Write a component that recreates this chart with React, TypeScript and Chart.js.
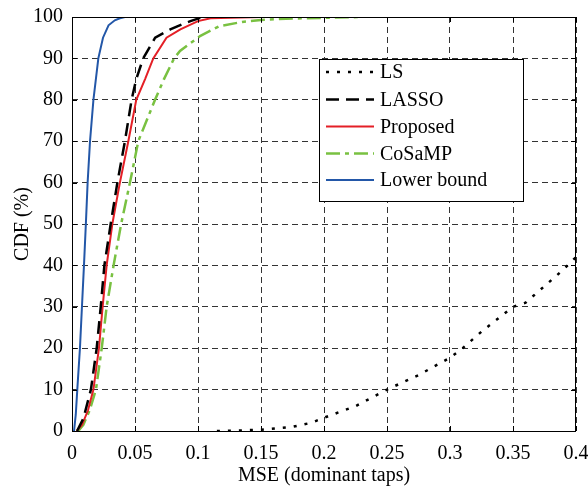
import React, { useEffect, useRef } from "react";
import { Chart, registerables } from "chart.js";

Chart.register(...registerables);

// ---- data ----
const xTitle = "MSE (dominant taps)";
const yTitle = "CDF (%)";

const lsMse = [0.115, 0.13, 0.15, 0.175, 0.19, 0.2, 0.225, 0.25, 0.275, 0.3, 0.31, 0.325, 0.35, 0.36, 0.375, 0.39, 0.4];
const lsCdf = [0, 0.1, 0.3, 1, 2, 3.2, 6, 10, 13.5, 17.7, 20, 24, 30, 31, 35, 39, 42];

const lassoMse = [0.004, 0.009, 0.015, 0.0196, 0.0228, 0.0257, 0.0307, 0.036, 0.042, 0.0473, 0.051, 0.0565, 0.066, 0.078, 0.088, 0.094, 0.104];
const lassoCdf = [0, 3, 10, 20, 30, 40, 50, 60, 70, 80, 85, 90, 95, 97, 98.3, 99, 100];

const propMse = [0.0037, 0.008, 0.0127, 0.017, 0.0214, 0.0243, 0.0275, 0.032, 0.038, 0.0447, 0.051, 0.058, 0.0645, 0.075, 0.086, 0.1, 0.11, 0.15];
const propCdf = [0, 1.5, 5, 10, 20, 30, 40, 50, 60, 70, 80, 85, 90, 95, 97, 99, 99.7, 100];

const cosampMse = [0.005, 0.009, 0.014, 0.019, 0.0236, 0.0275, 0.033, 0.039, 0.046, 0.0526, 0.0659, 0.073, 0.081, 0.0857, 0.1016, 0.117, 0.135, 0.15, 0.17, 0.23];
const cosampCdf = [0, 1.5, 5, 10, 20, 30, 40, 50, 60, 70, 80, 85, 90, 91.8, 95.4, 97.8, 98.8, 99.3, 99.6, 100];

const lowerMse = [0.0016, 0.003, 0.0042, 0.0063, 0.0079, 0.0095, 0.011, 0.0124, 0.0143, 0.017, 0.0209, 0.0246, 0.029, 0.034, 0.038, 0.042];
const lowerCdf = [0, 4, 10, 20, 30, 40, 50, 60, 70, 80, 90, 95, 98, 99.2, 99.7, 100];

const seriesNames = ["LS", "LASSO", "Proposed", "CoSaMP", "Lower bound"];

const FONT = "'Liberation Serif', 'DejaVu Serif', serif";

const zip = (xs: number[], ys: number[]) => xs.map((x, i) => ({ x, y: ys[i] }));

const frameAndLegend = {
  id: "frameAndLegend",
  afterDatasetsDraw(chart: any) {
    const { ctx, chartArea: a, scales } = chart;
    ctx.save();
    ctx.strokeStyle = "#000";
    ctx.lineWidth = 1;
    ctx.setLineDash([]);
    ctx.strokeRect(a.left + 0.5, a.top + 0.5, a.right - a.left - 1, a.bottom - a.top);
    const tl = 5;
    ctx.beginPath();
    scales.x.ticks.forEach((t: any) => {
      const px = Math.round(scales.x.getPixelForValue(t.value)) + 0.5;
      ctx.moveTo(px, a.bottom);
      ctx.lineTo(px, a.bottom - tl);
      ctx.moveTo(px, a.top);
      ctx.lineTo(px, a.top + tl);
    });
    scales.y.ticks.forEach((t: any) => {
      const py = Math.round(scales.y.getPixelForValue(t.value)) + 0.5;
      ctx.moveTo(a.left, py);
      ctx.lineTo(a.left + tl, py);
      ctx.moveTo(a.right, py);
      ctx.lineTo(a.right - tl, py);
    });
    ctx.stroke();
    ctx.restore();
  },
  afterDraw(chart: any) {
    const { ctx } = chart;
    const bx = 319, by = 59, bw = 204, bh = 142;
    ctx.save();
    ctx.fillStyle = "#fff";
    ctx.fillRect(bx, by, bw, bh);
    ctx.strokeStyle = "#000";
    ctx.lineWidth = 1;
    ctx.setLineDash([]);
    ctx.strokeRect(bx + 0.5, by + 0.5, bw, bh);
    const rowY = [72, 99.5, 126.5, 153.5, 180];
    chart.data.datasets.forEach((ds: any, i: number) => {
      const y = rowY[i];
      ctx.beginPath();
      ctx.strokeStyle = ds.borderColor;
      ctx.lineWidth = ds.borderWidth;
      ctx.setLineDash(ds.borderDash || []);
      ctx.lineCap = "butt";
      ctx.moveTo(326, y);
      ctx.lineTo(374, y);
      ctx.stroke();
      ctx.setLineDash([]);
      ctx.fillStyle = "#000";
      ctx.font = `20px ${FONT}`;
      ctx.textBaseline = "middle";
      ctx.textAlign = "left";
      ctx.fillText(ds.label, 380, y + 1);
    });
    ctx.restore();
  },
};

export default function App() {
  const ref = useRef<HTMLCanvasElement | null>(null);
  useEffect(() => {
    if (!ref.current) return;
    const common = { pointRadius: 0, fill: false, tension: 0, showLine: true };
    const chart = new Chart(ref.current, {
      type: "scatter",
      data: {
        datasets: [
          { ...common, label: seriesNames[0], data: zip(lsMse, lsCdf), borderColor: "#000", borderWidth: 2.5, borderDash: [3, 8] },
          { ...common, label: seriesNames[1], data: zip(lassoMse, lassoCdf), borderColor: "#000", borderWidth: 2.5, borderDash: [13, 7] },
          { ...common, label: seriesNames[2], data: zip(propMse, propCdf), borderColor: "#e41f26", borderWidth: 2 },
          { ...common, label: seriesNames[3], data: zip(cosampMse, cosampCdf), borderColor: "#79c141", borderWidth: 2.5, borderDash: [14, 5, 4, 5] },
          { ...common, label: seriesNames[4], data: zip(lowerMse, lowerCdf), borderColor: "#2357a8", borderWidth: 2 },
        ],
      },
      options: {
        animation: false,
        responsive: false,
        devicePixelRatio: 1,
        layout: { padding: { left: 0, right: 12, top: 17, bottom: 0 } },
        plugins: { legend: { display: false }, tooltip: { enabled: false } },
        scales: {
          x: {
            type: "linear",
            min: 0,
            max: 0.4,
            afterFit: (s: any) => {
              s.height = 60;
              s.paddingLeft = 0;
              s.paddingRight = 0;
            },
            ticks: {
              stepSize: 0.05,
              autoSkip: false,
              maxRotation: 0,
              padding: 11,
              color: "#000",
              font: { family: FONT, size: 20 },
              callback: (v: any) => String(+Number(v).toFixed(2)),
            },
            grid: { color: "#333", lineWidth: 1, drawTicks: false },
            border: { display: false, dash: [6, 4] },
            title: { display: true, text: xTitle, color: "#000", font: { family: FONT, size: 20 }, padding: { top: 0, bottom: 3 } },
          },
          y: {
            type: "linear",
            min: 0,
            max: 100,
            afterFit: (s: any) => {
              s.width = 72;
              s.paddingTop = 0;
              s.paddingBottom = 0;
            },
            ticks: {
              stepSize: 10,
              autoSkip: false,
              padding: 9,
              color: "#000",
              font: { family: FONT, size: 20 },
            },
            grid: { color: "#333", lineWidth: 1, drawTicks: false },
            border: { display: false, dash: [6, 4] },
            title: { display: true, text: yTitle, color: "#000", font: { family: FONT, size: 20 }, padding: { top: 11, bottom: 0 } },
          },
        },
      },
      plugins: [frameAndLegend],
    });
    return () => chart.destroy();
  }, []);
  return (
    <div style={{ position: "absolute", left: 0, top: 0, width: 588, height: 491, background: "#fff" }}>
      <canvas ref={ref} width={588} height={491} />
    </div>
  );
}
